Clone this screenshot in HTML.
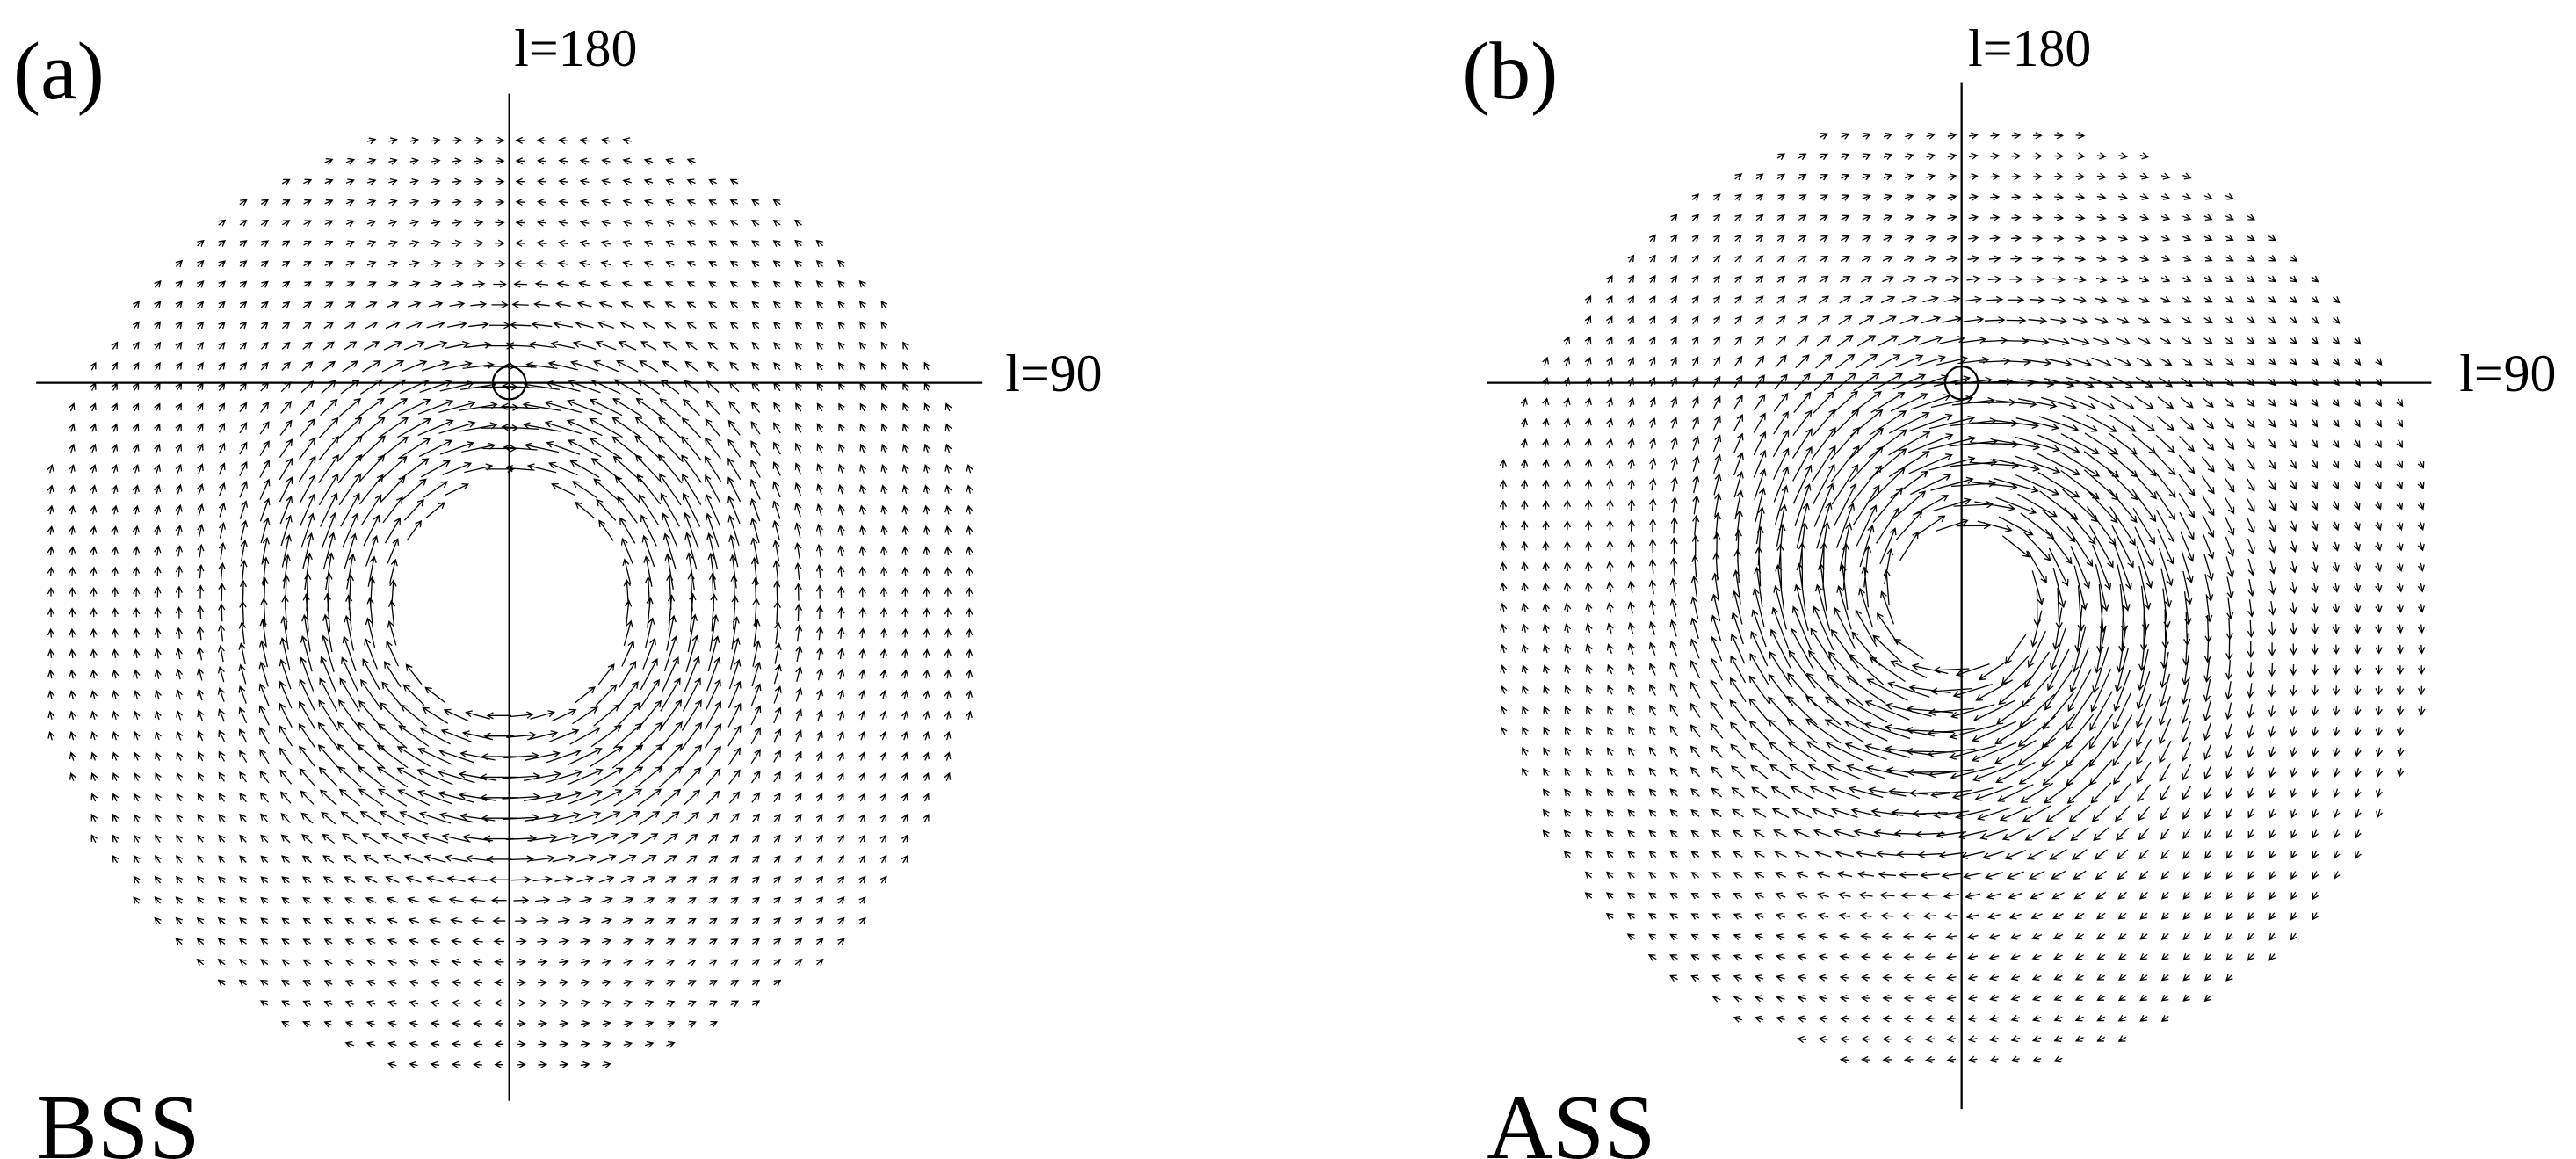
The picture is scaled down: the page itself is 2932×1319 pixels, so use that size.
<!DOCTYPE html>
<html><head><meta charset="utf-8"><style>
html,body{margin:0;padding:0;background:#fff;}
svg{display:block;}
text{font-family:"Liberation Serif",serif;fill:#000;}
</style></head><body>
<svg id="s" width="2932" height="1319" viewBox="0 0 1568 705.4" preserveAspectRatio="none" xmlns="http://www.w3.org/2000/svg">
<rect width="1568" height="706" fill="#fff"/>
<g stroke="#000" stroke-width="1.2" fill="none">
<line x1="22" y1="233" x2="598" y2="233"/>
<line x1="310" y1="57" x2="310" y2="670"/>
<circle cx="310" cy="233" r="10"/>
<line x1="905" y1="233" x2="1480" y2="233"/>
<line x1="1194" y1="50" x2="1194" y2="675"/>
<circle cx="1194" cy="233" r="10"/>
</g>
<text x="8" y="60" font-size="50">(a)</text>
<text x="890" y="60" font-size="50">(b)</text>
<text x="313" y="40" font-size="32">l=180</text>
<text x="1198" y="40" font-size="32">l=180</text>
<text x="612" y="238" font-size="32">l=90</text>
<text x="1497" y="238" font-size="32">l=90</text>
<text x="22" y="705" font-size="56">BSS</text>
<text x="905" y="705" font-size="56">ASS</text>
<g id="f" stroke="#000" stroke-width="0.7" fill="none"></g>
</svg>
<script>
var g=document.getElementById('f'),out=[];
function arrow(x,y,vx,vy,L){var n=Math.hypot(vx,vy)||1;vx/=n;vy/=n;
var x0=x-vx*L/2,y0=y-vy*L/2,x1=x+vx*L/2,y1=y+vy*L/2,h=4;
var c=Math.cos(0.5),s=Math.sin(0.5);
var ax=-vx*c+vy*s,ay=-vy*c-vx*s,bx=-vx*c-vy*s,by=-vy*c+vx*s;
out.push('M'+x0.toFixed(1)+' '+y0.toFixed(1)+'L'+x1.toFixed(1)+' '+y1.toFixed(1)+'M'+(x1+ax*h).toFixed(1)+' '+(y1+ay*h).toFixed(1)+'L'+x1.toFixed(1)+' '+y1.toFixed(1)+'L'+(x1+bx*h).toFixed(1)+' '+(y1+by*h).toFixed(1));}
function field(cx,cy,R,hole,bss){
for(var y=cy-R;y<=cy+R;y+=12.5)for(var x=cx-R;x<=cx+R;x+=13){
var dx=x-cx,dy=y-cy,r=Math.hypot(dx,dy);if(r>R||r<hole)continue;
var tx=-dy,ty=dx,rx=dx*0.3,ry=dy*0.3,vx,vy,L;
if(bss){var sg=dx<0?1:-1;vx=sg*tx;vy=sg*ty;if(Math.abs(dx)<7){vx=dy>0?-1:1;vy=0;}
L=5+18*Math.exp(-Math.pow((r-115)/55,2));}
else{vx=tx+rx*0.6;vy=ty+ry*0.6;L=5+24*Math.exp(-Math.pow((r-90)/70,2));}
arrow(x,y,vx,vy,L);}}
field(310,365,292,70,true);
field(1194,362,292,40,false);
g.innerHTML='<path d="'+out.join('')+'"/>';
</script>
</body></html>
